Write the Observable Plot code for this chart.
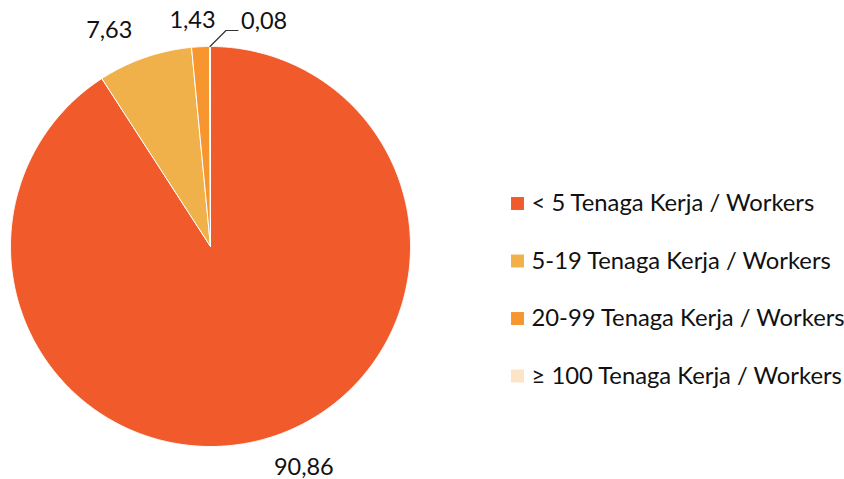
<!DOCTYPE html>
<html>
<head>
<meta charset="utf-8">
<script src="https://cdn.jsdelivr.net/npm/d3@7"></script>
<script src="https://cdn.jsdelivr.net/npm/@observablehq/plot@0.6"></script>
<style>
  html, body { margin: 0; padding: 0; background: #fff; }
  #chart svg { display: block; }
</style>
</head>
<body>
<div id="chart"></div>
<script>
// ---- data ----
const categories = [
  "< 5 Tenaga Kerja / Workers",
  "5-19 Tenaga Kerja / Workers",
  "20-99 Tenaga Kerja / Workers",
  "\u2265 100 Tenaga Kerja / Workers"
];
const values = [90.86, 7.63, 1.43, 0.08];
const valueLabels = ["90,86", "7,63", "1,43", "0,08"];
const colors = ["#F15A2B", "#F0B14B", "#F7962F", "#FDE3C8"];

// ---- layout (style only) ----
const W = 844, H = 479;
const FONT = "Lato, 'Liberation Sans', sans-serif";
const labelOffsets = [[31, 10], [-29, -8], [-7, -6], [0, 0]]; // px nudges for outside labels

// ---- pie geometry computed from data ----
const pie = d3.pie().sort(null).startAngle(0).endAngle(2 * Math.PI).value(d => d.value);
const rows = categories.map((c, i) => ({category: c, value: values[i], label: valueLabels[i], i}));
const arcs = pie(rows);
const polar = (a, r) => [r * Math.sin(a), r * Math.cos(a)];

const slicePts = [];
arcs.forEach(a => {
  const cat = a.data.category;
  slicePts.push({cat, x: 0, y: 0});
  const n = Math.max(2, Math.ceil((a.endAngle - a.startAngle) / 0.005));
  for (let k = 0; k <= n; k++) {
    const t = a.startAngle + (a.endAngle - a.startAngle) * k / n;
    const [x, y] = polar(t, 1);
    slicePts.push({cat, x, y});
  }
  slicePts.push({cat, x: 0, y: 0});
});

const labelPts = arcs.map(a => {
  const mid = (a.startAngle + a.endAngle) / 2;
  const [x, y] = polar(mid, 1.1);
  return {x, y, label: a.data.label, i: a.data.i, mid};
});

// leader line for the smallest slice
const small = arcs[3];
const smid = (small.startAngle + small.endAngle) / 2;
const [lx0, ly0] = polar(smid, 1.0);
const leader = [
  {x: lx0, y: ly0},
  {x: lx0 + 0.08, y: 1.08},
  {x: lx0 + 0.14, y: 1.08}
];

const legendRows = categories.map((c, i) => ({category: c, y: 0.215 - i * 0.2875}));

const textMarks = labelPts.slice(0, 3).map((p, k) =>
  Plot.text([p], {
    x: "x", y: "y", text: "label",
    dx: labelOffsets[k][0], dy: labelOffsets[k][1],
    fontSize: 23.5, fill: "#111", fontFamily: FONT
  })
);

const chart = Plot.plot({
  width: W, height: H,
  marginTop: 0, marginRight: 0, marginBottom: 0, marginLeft: 0,
  x: {domain: [-1.05, 3.17], axis: null},
  y: {domain: [-1.165, 1.23], axis: null},
  color: {domain: categories, range: colors},
  style: {fontFamily: FONT, background: "#fff"},
  marks: [
    Plot.line(slicePts, {x: "x", y: "y", z: "cat", fill: "cat", stroke: "#fff", strokeWidth: 1, curve: "linear"}),
    ...textMarks,
    Plot.line(leader, {x: "x", y: "y", stroke: "#333", strokeWidth: 1.2}),
    Plot.text([leader[2]], {x: "x", y: "y", text: () => valueLabels[3], textAnchor: "start", dx: 3, dy: -9, fontSize: 23.5, fill: "#111", fontFamily: FONT}),
    Plot.dot(legendRows, {x: () => 1.535, y: "y", fill: "category", symbol: "square", r: 7.3, stroke: null}),
    Plot.text(legendRows, {x: () => 1.605, y: "y", text: "category", textAnchor: "start", fontSize: 23.8, fill: "#111", fontFamily: FONT})
  ]
});

document.getElementById("chart").appendChild(chart);
</script>
</body>
</html>
